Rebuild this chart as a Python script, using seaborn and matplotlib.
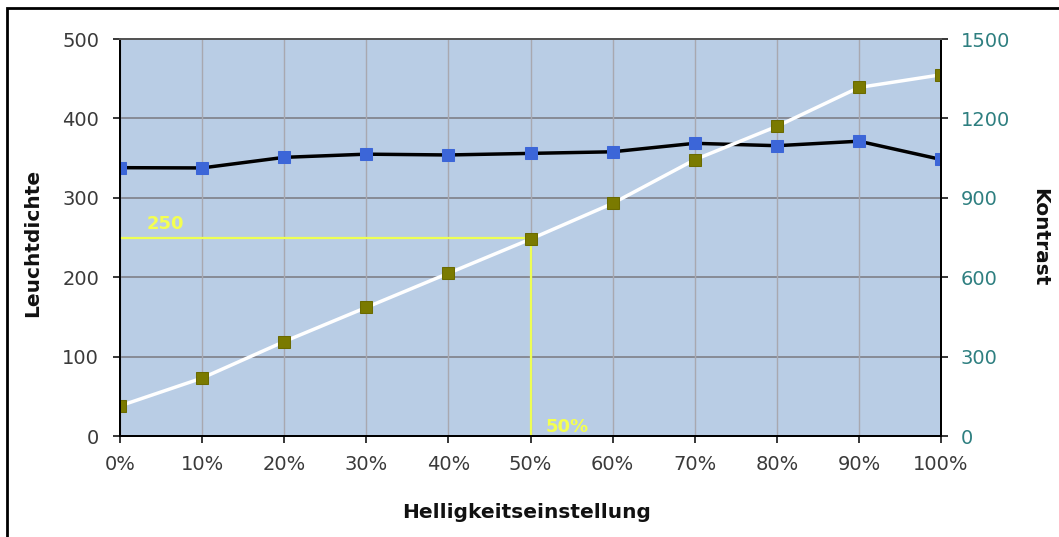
import pandas as pd
import numpy as np
import matplotlib.pyplot as plt
import seaborn as sns
from matplotlib.patches import Rectangle

# Daten
helligkeit = [0, 10, 20, 30, 40, 50, 60, 70, 80, 90, 100]
leuchtdichte = [38, 73, 119, 162, 205, 248, 293, 348, 390, 439, 455]
kontrast = [1014, 1013, 1053, 1065, 1062, 1068, 1074, 1106, 1097, 1114, 1045]
x_labels = ['0%', '10%', '20%', '30%', '40%', '50%', '60%', '70%', '80%', '90%', '100%']
ref_x = 50
ref_y = 250

df = pd.DataFrame({'Helligkeit': helligkeit, 'Leuchtdichte': leuchtdichte, 'Kontrast': kontrast})

sns.set_style('white')
plt.rcParams['font.family'] = ['DejaVu Sans']

fig = plt.figure(figsize=(10.59, 5.37), dpi=100)
ax2 = fig.add_axes([0.1133, 0.188, 0.7753, 0.7393])
ax = ax2.twinx()
# linke Achse vorne zeichnen, Hintergrund auf der hinteren Achse
ax.set_zorder(ax2.get_zorder() + 1)
ax.patch.set_visible(False)
ax2.set_facecolor('#B9CDE5')

ax2.yaxis.tick_right()
ax.yaxis.tick_left()

sns.lineplot(data=df, x='Helligkeit', y='Kontrast', ax=ax2, color='black', lw=2.5,
             marker='s', markersize=8, markerfacecolor='#3C66D8', markeredgecolor='#3C66D8')
sns.lineplot(data=df, x='Helligkeit', y='Leuchtdichte', ax=ax, color='white', lw=2.5,
             marker='s', markersize=8, markerfacecolor='#7A7A00', markeredgecolor='#6A6A00')

# Hilfslinien 250 / 50%
ax.plot([0, ref_x], [ref_y, ref_y], color='#EEFF55', lw=1.6, zorder=1)
ax.plot([ref_x, ref_x], [0, ref_y], color='#EEFF55', lw=1.6, zorder=1)
ax.text(3.3, ref_y + 6, str(ref_y), color='#F4FF50', fontsize=13, fontweight='bold',
        ha='left', va='bottom')
ax.text(ref_x + 1.9, 12, f'{ref_x}%', color='#F4FF50', fontsize=13, fontweight='bold',
        ha='left', va='center')

ax.set_xlim(0, 100)
ax.set_ylim(0, 500)
ax2.set_ylim(0, 1500)
ax.set_yticks(np.arange(0, 501, 100))
ax2.set_yticks(np.arange(0, 1501, 300))
ax2.set_xticks(helligkeit)
ax2.set_xticklabels(x_labels)

# Gitter
ax2.grid(axis='x', color='#A8A8B0', lw=1)
for v in [100, 200, 300, 400]:
    ax2.axhline(v * 3, color='#7F7F88', lw=1.2, zorder=0.5)

ax.tick_params(axis='y', direction='out', length=5, width=1.3, pad=10, labelsize=14,
               labelcolor='#3A3A3A', left=True)
ax2.tick_params(axis='y', direction='out', length=5, width=1.3, pad=9, labelsize=14,
                labelcolor='#2E7F80', right=True)
ax2.tick_params(axis='x', direction='out', length=5, width=1.3, pad=9, labelsize=14,
                labelcolor='#3A3A3A', bottom=True)
ax.tick_params(axis='x', bottom=False, labelbottom=False)

for a in (ax, ax2):
    for s in a.spines.values():
        s.set_color('black')
        s.set_linewidth(1.4)
    a.spines['top'].set_color('#555555')

ax.set_ylabel('')
ax2.set_ylabel('')
ax2.set_xlabel('')
ax.set_xlabel('')
label_kw = dict(fontsize=14.5, fontweight='bold', color='#111111', ha='center', va='center')
fig.text(33 / 1059, 1 - 243 / 537, 'Leuchtdichte', rotation=90, **label_kw)
fig.text(1040 / 1059, 1 - 237 / 537, 'Kontrast', rotation=-90, **label_kw)
fig.text(527 / 1059, 1 - 513 / 537, 'Helligkeitseinstellung', **label_kw)

# Rahmen des Diagrammbereichs
fig.patches.append(Rectangle((0.0066, -0.05), 1.1, 1.035, transform=fig.transFigure,
                             fill=False, edgecolor='black', lw=2))

fig.savefig('out.png', dpi=100)
